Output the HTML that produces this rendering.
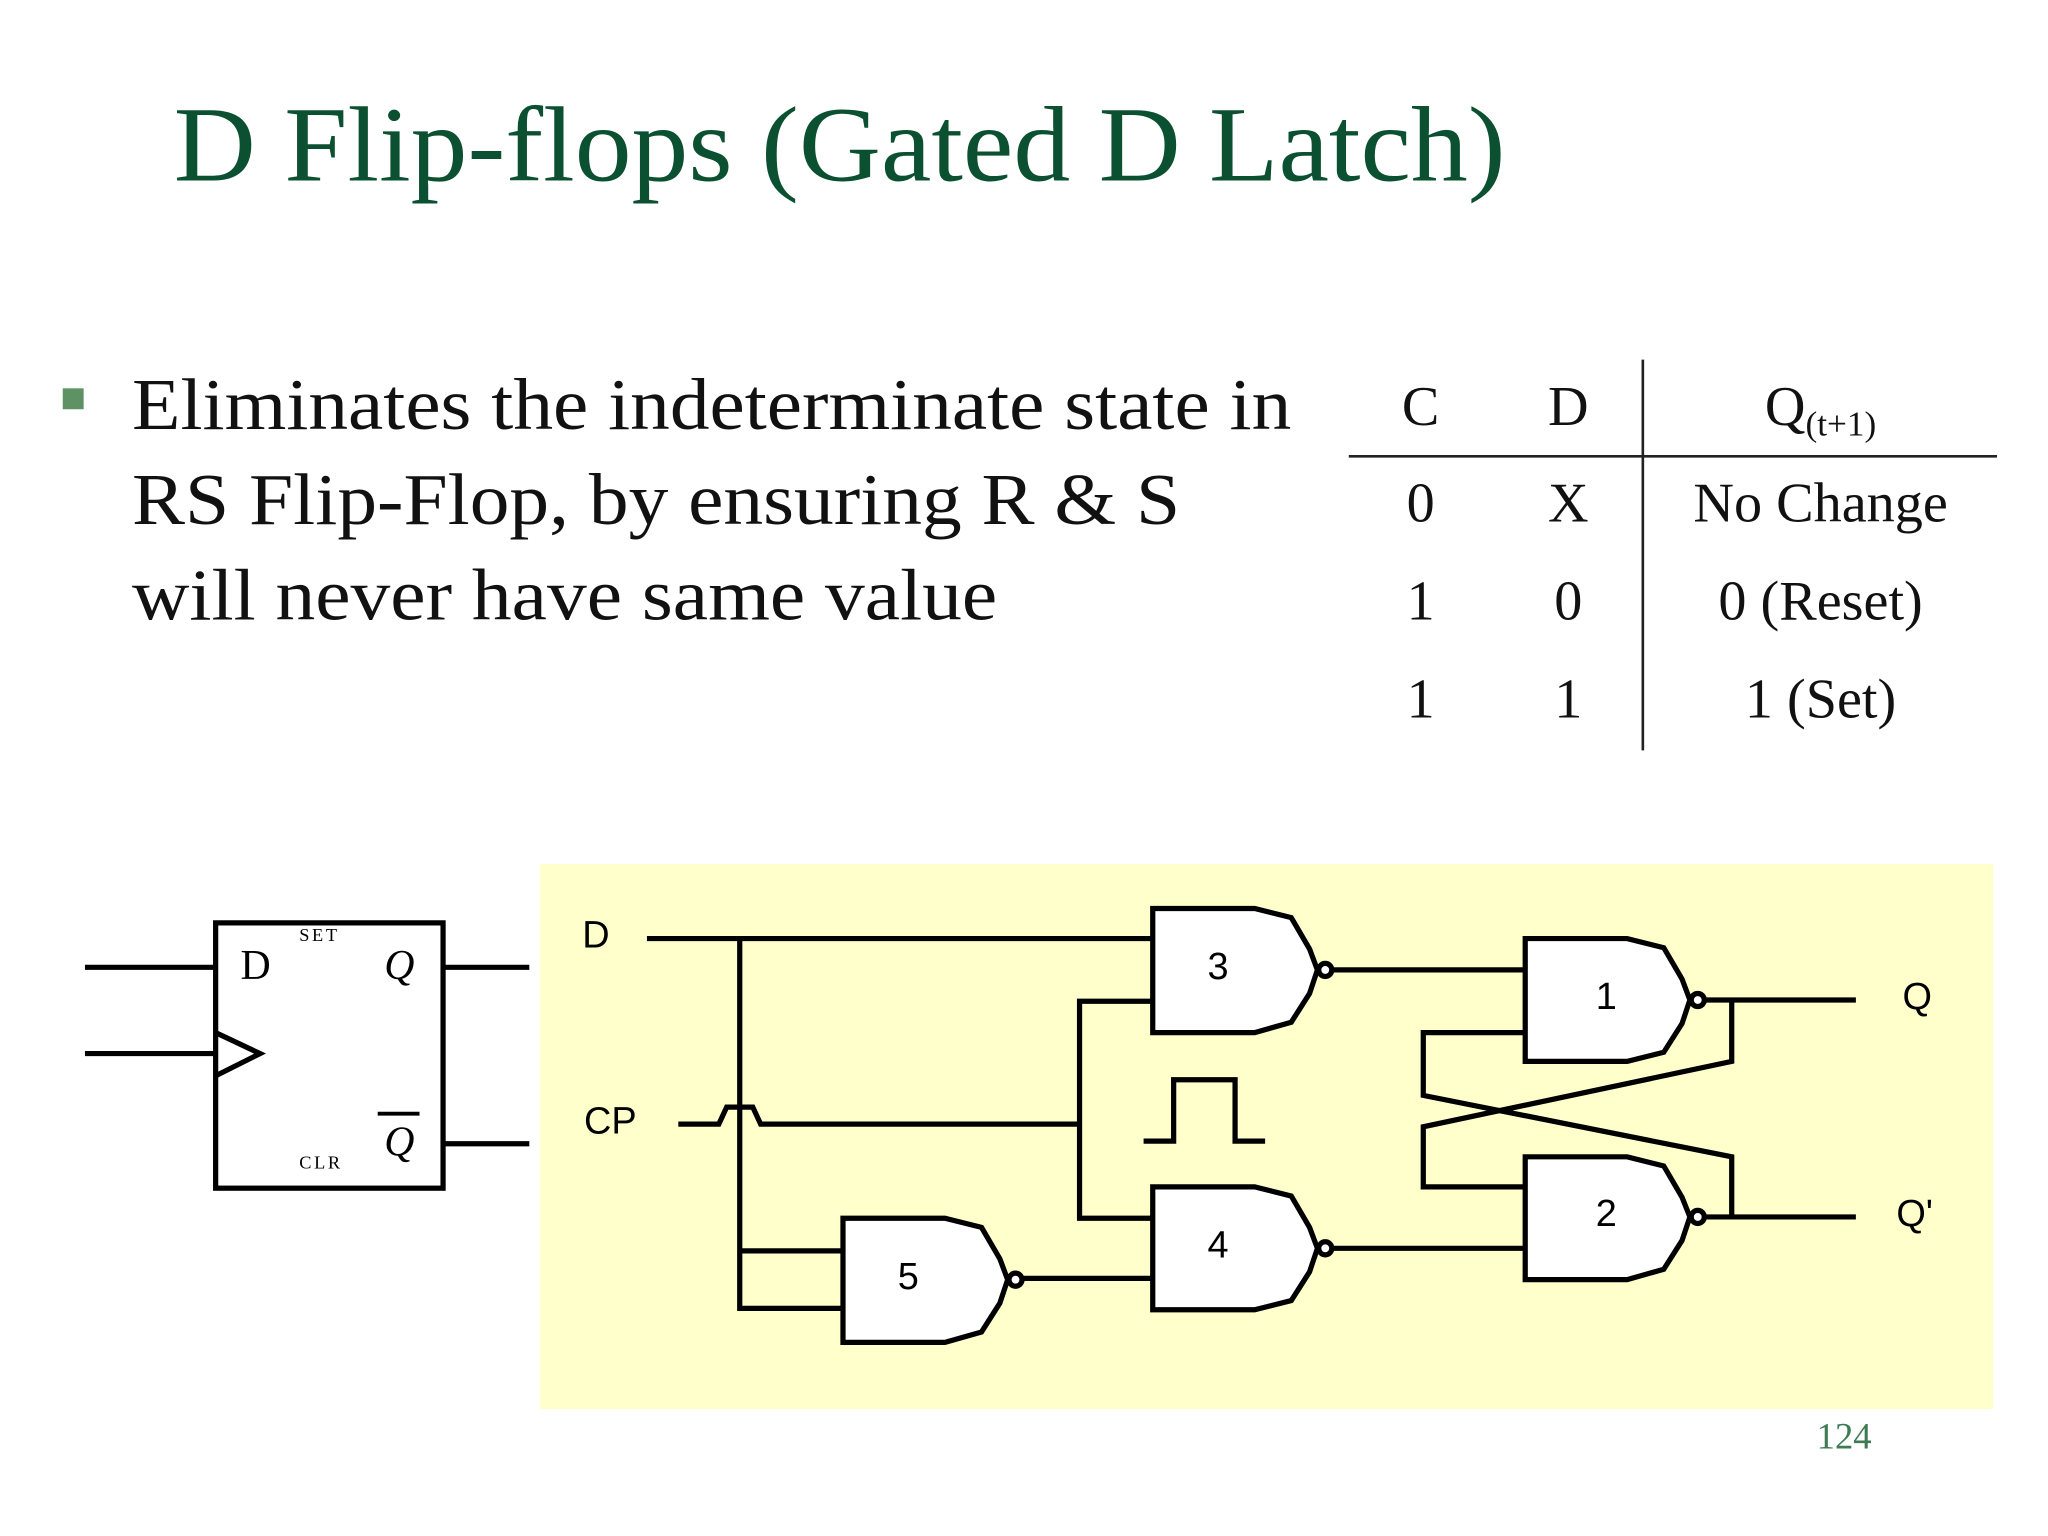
<!DOCTYPE html>
<html><head><meta charset="utf-8"><style>
html,body{margin:0;padding:0;background:#fff;}
svg{display:block;}
</style></head><body>
<svg width="2048" height="1536" viewBox="0 0 1567 1175" xmlns="http://www.w3.org/2000/svg">
<rect width="1567" height="1175" fill="#fff"/>
<text x="133" y="138" font-family="Liberation Serif, serif" font-size="82" fill="#0b5030" textLength="1019" lengthAdjust="spacingAndGlyphs">D Flip-flops (Gated D Latch)</text>
<rect x="48" y="297" width="16" height="16" fill="#5e9163"/>
<g font-family="Liberation Serif, serif" font-size="56" fill="#111" lengthAdjust="spacingAndGlyphs">
<text x="101" y="328" textLength="887" lengthAdjust="spacingAndGlyphs">Eliminates the indeterminate state in</text>
<text x="101" y="401" textLength="802" lengthAdjust="spacingAndGlyphs">RS Flip-Flop, by ensuring R &amp; S</text>
<text x="101" y="474" textLength="662" lengthAdjust="spacingAndGlyphs">will never have same value</text>
</g>
<g font-family="Liberation Serif, serif" font-size="43" fill="#111" text-anchor="middle">
<text x="1087" y="325">C</text><text x="1200" y="325">D</text>
<text x="1393" y="325">Q<tspan font-size="27" dy="8">(t+1)</tspan></text>
<text x="1087" y="399">0</text><text x="1200" y="399">X</text><text x="1393" y="399">No Change</text>
<text x="1087" y="474">1</text><text x="1200" y="474">0</text><text x="1393" y="474">0 (Reset)</text>
<text x="1087" y="549">1</text><text x="1200" y="549">1</text><text x="1393" y="549">1 (Set)</text>
</g>
<line x1="1257" y1="275" x2="1257" y2="574" stroke="#222" stroke-width="2"/>
<line x1="1032" y1="349" x2="1528" y2="349" stroke="#222" stroke-width="2"/>

<g stroke="#000" stroke-width="4" fill="none">
<rect x="165" y="706" width="174" height="203"/>
<line x1="65" y1="740" x2="165" y2="740"/>
<line x1="65" y1="806" x2="165" y2="806"/>
<line x1="339" y1="740" x2="405" y2="740"/>
<line x1="339" y1="875" x2="405" y2="875"/>
<polyline points="165,790 199,806 165,823"/>
<line x1="289" y1="852" x2="321" y2="852" stroke-width="3"/>
</g>
<g font-family="Liberation Serif, serif" fill="#000">
<text x="184" y="749" font-size="32">D</text>
<text x="229" y="720" font-size="14" letter-spacing="2">SET</text>
<text x="229" y="894" font-size="14" letter-spacing="2">CLR</text>
<text x="294" y="749" font-size="32" font-style="italic">Q</text>
<text x="294" y="884" font-size="32" font-style="italic">Q</text>
</g>

<rect x="413" y="661" width="1112" height="417" fill="#ffffcc"/>
<g stroke="#000" stroke-width="4" fill="none" stroke-linejoin="miter">
<polyline points="495,718 882,718"/>
<polyline points="566,718 566,1001 645,1001"/>
<line x1="566" y1="957" x2="645" y2="957"/>
<path d="M519,860 H550 L556,847 H576 L582,860 H826"/>
<polyline points="882,766 826,766 826,932 882,932"/>
<line x1="782" y1="978" x2="882" y2="978"/>
<line x1="1020" y1="742" x2="1167" y2="742"/>
<line x1="1020" y1="955" x2="1167" y2="955"/>
<line x1="1305" y1="765" x2="1420" y2="765"/>
<line x1="1305" y1="931" x2="1420" y2="931"/>
<polyline points="1325,765 1325,812 1089,862 1089,908 1167,908"/>
<polyline points="1325,931 1325,885 1089,838 1089,790 1167,790"/>
<polyline points="875,873 898,873 898,826 945,826 945,873 968,873"/>
</g>
<g stroke="#000" stroke-width="4" fill="#fff">
<path d="M882,695 H960 L988,702 L1002,726 L1008,742 L1002,760 L988,782 L960,790 H882 Z"/>
<path d="M882,908 H960 L988,915 L1002,939 L1008,955 L1002,973 L988,995 L960,1002 H882 Z"/>
<path d="M645,932 H723 L751,939 L765,963 L771,979 L765,997 L751,1019 L723,1027 H645 Z"/>
<path d="M1167,718 H1245 L1273,725 L1287,749 L1293,765 L1287,783 L1273,805 L1245,812 H1167 Z"/>
<path d="M1167,885 H1245 L1273,892 L1287,916 L1293,931 L1287,949 L1273,971 L1245,979 H1167 Z"/>
<circle cx="1014" cy="742" r="5"/>
<circle cx="1014" cy="955" r="5"/>
<circle cx="777" cy="979" r="5"/>
<circle cx="1299" cy="765" r="5"/>
<circle cx="1299" cy="931" r="5"/>
</g>
<g font-family="Liberation Sans, sans-serif" font-size="29" fill="#000" text-anchor="middle">
<text x="932" y="749">3</text><text x="932" y="962">4</text><text x="695" y="986">5</text>
<text x="1229" y="772">1</text><text x="1229" y="938">2</text>
<text x="456" y="725">D</text><text x="467" y="867">CP</text>
<text x="1467" y="772">Q</text><text x="1465" y="938">Q'</text>
</g>
<text x="1411" y="1108" font-family="Liberation Serif, serif" font-size="28" fill="#3e7a52" text-anchor="middle">124</text>
</svg>
</body></html>
